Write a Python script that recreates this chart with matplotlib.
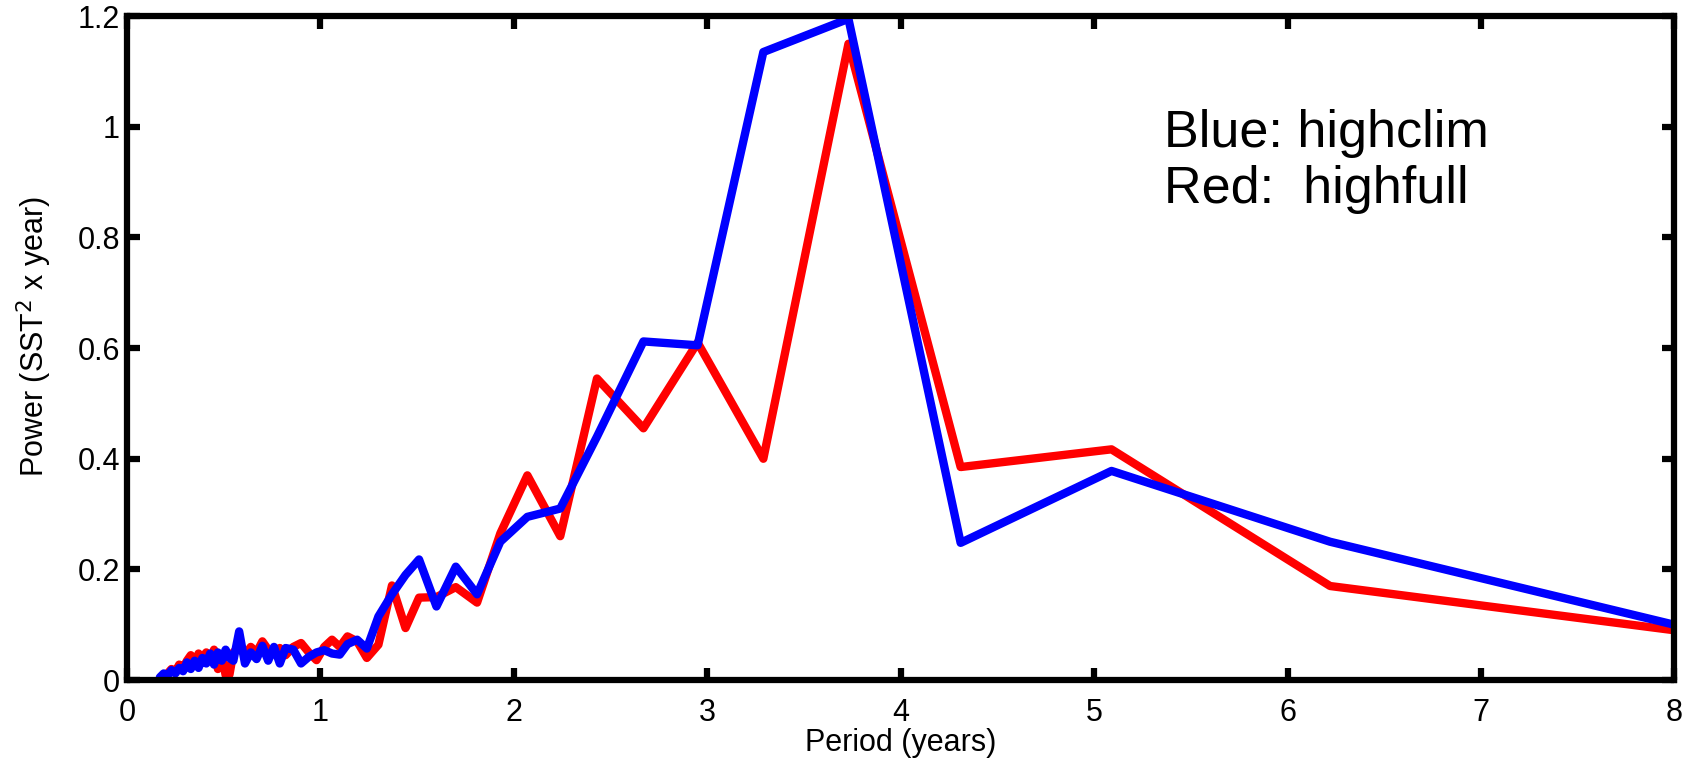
import matplotlib.pyplot as plt

plt.rcParams['font.family'] = ['Liberation Sans', 'DejaVu Sans']

# period in years (shared by both spectra)
period = [0.17, 0.19, 0.21, 0.23, 0.25, 0.27, 0.29, 0.31, 0.33, 0.35,
          0.37, 0.39, 0.41, 0.43, 0.45, 0.47, 0.49, 0.51, 0.53, 0.55,
          0.58, 0.61, 0.64, 0.67, 0.70, 0.73, 0.76, 0.79, 0.82, 0.86,
          0.90, 0.94, 0.98, 1.02, 1.06, 1.10, 1.14, 1.19, 1.24, 1.30,
          1.37, 1.44, 1.51, 1.60, 1.70, 1.81, 1.93, 2.07, 2.24, 2.43,
          2.67, 2.95, 3.29, 3.73, 4.31, 5.09, 6.22, 8.00]

# highfull (red)
power_full = [0.003, 0.008, 0.012, 0.020, 0.015, 0.028, 0.022, 0.035, 0.045, 0.030,
              0.048, 0.040, 0.050, 0.035, 0.055, 0.020, 0.045, 0.009, 0.010, 0.050,
              0.060, 0.045, 0.060, 0.050, 0.070, 0.055, 0.052, 0.058, 0.045, 0.060,
              0.067, 0.050, 0.036, 0.060, 0.073, 0.060, 0.079, 0.070, 0.040, 0.064,
              0.171, 0.094, 0.149, 0.150, 0.168, 0.140, 0.265, 0.370, 0.260, 0.545,
              0.455, 0.610, 0.400, 1.150, 0.385, 0.417, 0.170, 0.090]

# highclim (blue)
power_clim = [0.005, 0.012, 0.008, 0.018, 0.012, 0.022, 0.016, 0.032, 0.020, 0.035,
              0.022, 0.040, 0.030, 0.048, 0.028, 0.050, 0.035, 0.055, 0.040, 0.035,
              0.088, 0.030, 0.050, 0.038, 0.062, 0.035, 0.060, 0.030, 0.058, 0.055,
              0.030, 0.042, 0.050, 0.054, 0.048, 0.046, 0.065, 0.073, 0.057, 0.115,
              0.155, 0.190, 0.218, 0.133, 0.205, 0.155, 0.250, 0.295, 0.310, 0.440,
              0.612, 0.605, 1.135, 1.195, 0.248, 0.378, 0.250, 0.100]

fig = plt.figure(figsize=(16.93, 7.65), dpi=100)
ax = fig.add_axes([0.075, 0.111, 0.914, 0.868])

ax.plot(period, power_full, color='red', lw=6, solid_joinstyle='round',
        solid_capstyle='round')
ax.plot(period, power_clim, color='blue', lw=6, solid_joinstyle='round',
        solid_capstyle='round')

ax.set_xlim(0, 8)
ax.set_ylim(0, 1.2)
ax.set_xticks(range(0, 9))
ax.set_yticks([0, 0.2, 0.4, 0.6, 0.8, 1, 1.2])
ax.set_yticklabels(['0', '0.2', '0.4', '0.6', '0.8', '1', '1.2'])

for s in ax.spines.values():
    s.set_linewidth(4.5)
ax.tick_params(direction='in', length=9, width=4.5, labelsize=22,
               top=True, right=True)
ax.tick_params(axis='x', pad=13)
ax.tick_params(axis='y', pad=5)

ax.set_xlabel('Period (years)', fontsize=22, labelpad=0)
ax.set_ylabel('Power (SST$^2$ x year)', fontsize=22)
ax.yaxis.set_label_coords(-0.047, 0.517)

ax.text(5.36, 1.032, 'Blue: highclim\nRed:  highfull', fontsize=37.5,
        va='top', ha='left', linespacing=1.19)

fig.savefig('out.png', dpi=100)
